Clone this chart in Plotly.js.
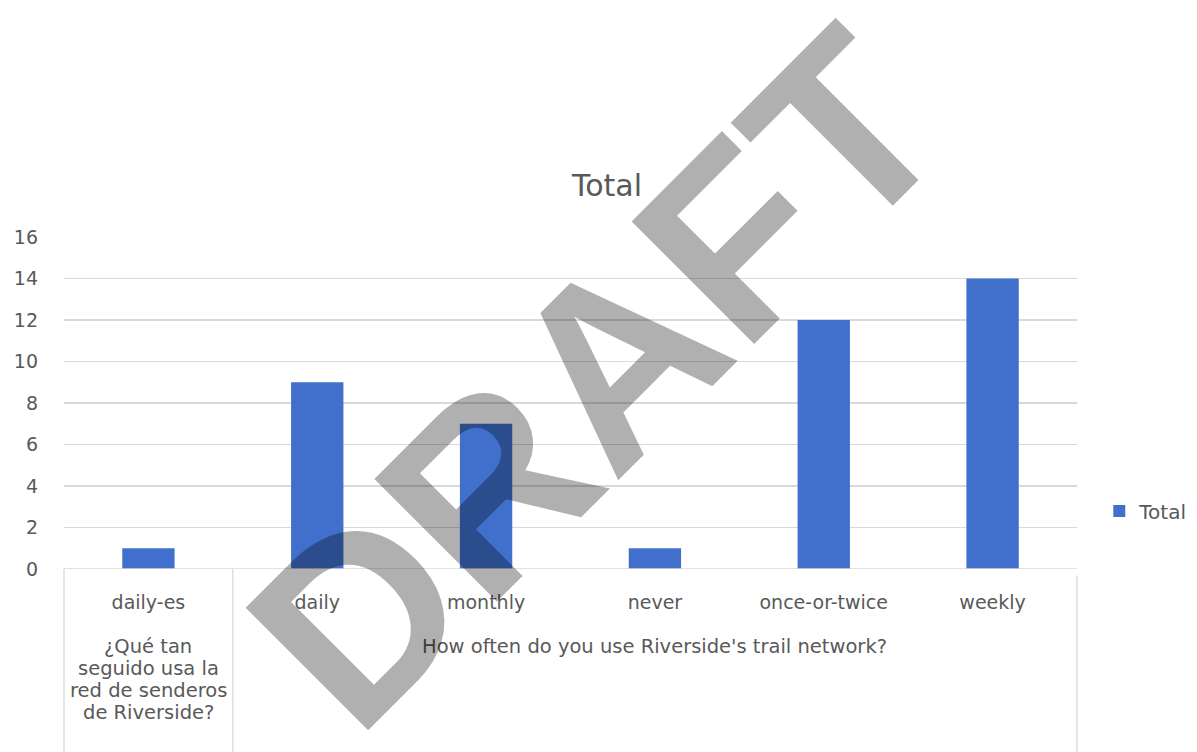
<!DOCTYPE html>
<html>
<head>
<meta charset="utf-8">
<script src="https://cdn.plot.ly/plotly-3.0.1.min.js"></script>
<style>html,body{margin:0;padding:0;background:#fff;}#chart{width:1197px;height:752px;}</style>
</head>
<body>
<div id="chart"></div>
<script>
// Data
const categories = ["daily-es", "daily", "monthly", "never", "once-or-twice", "weekly"];
const totals = [1, 9, 7, 1, 12, 14];
const seriesName = "Total";
const chartTitle = "Total";
const groupLabels = ["¿Qué tan\nseguido usa la\nred de senderos\nde Riverside?", "How often do you use Riverside's trail network?"];
const groupCenters = [0, 3];       // category index at the middle of each group
const groupBoundaries = [0.5];     // boundaries between groups (in category units)
const yTicks = [0, 2, 4, 6, 8, 10, 12, 14, 16];
const watermark = "DRAFT";

const FONT = "DejaVu Sans, sans-serif";
const GREY = "#595959";
const LINE = "#d9d9d9";

const plotH = 332; // px height of plot area (for paper-coordinate conversions)
const bottomPaper = -183 / plotH;

const shapes = [
  {type:"line", xref:"paper", yref:"y", x0:0, x1:1, y0:0, y1:0, line:{color:LINE, width:1.3}},
  {type:"line", xref:"paper", yref:"paper", x0:0, x1:0, y0:0, y1:bottomPaper, line:{color:LINE, width:1.3}},
  {type:"line", xref:"paper", yref:"paper", x0:1, x1:1, y0:-0.02, y1:bottomPaper, line:{color:LINE, width:1.3}}
];
groupBoundaries.forEach(b => shapes.push({type:"line", xref:"x", yref:"paper", x0:b, x1:b, y0:0, y1:bottomPaper, line:{color:LINE, width:1.3}}));

const annotations = [];
groupLabels.forEach((t, i) => {
  t.split("\n").forEach((line, j) => {
    annotations.push({
      text: line, xref:"x", yref:"paper", x: groupCenters[i], y: -(77 + 22*j)/plotH,
      xanchor:"center", yanchor:"middle", showarrow:false, align:"center",
      font:{family:FONT, size:19.5, color:GREY}
    });
  });
});
annotations.push({
  text: watermark, xref:"paper", yref:"paper", x:(596-64)/1013, y:(569-378)/plotH,
  xanchor:"center", yanchor:"middle", showarrow:false, textangle:-45,
  font:{family:"Liberation Sans, Arial, sans-serif", size:252, weight:"bold", color:"rgba(0,0,0,0.31)"}
});

const trace = {
  type:"bar", x: categories, y: totals, name: seriesName,
  marker:{color:"#4070cc"}, showlegend:true, hoverinfo:"x+y"
};

const layout = {
  width:1197, height:752,
  margin:{l:64, r:120, t:237, b:183, autoexpand:false},
  paper_bgcolor:"#fff", plot_bgcolor:"#fff",
  font:{family:FONT, color:GREY},
  title:{text:chartTitle, font:{family:FONT, size:30, color:GREY}, x:607/1197, xanchor:"center", y:1-185/752, yanchor:"middle", xref:"container", yref:"container"},
  bargap:0.69,
  showlegend:true,
  legend:{x:1.022, xanchor:"left", y:(569-511)/plotH, yanchor:"middle", font:{family:FONT, size:20, color:GREY}, bgcolor:"rgba(0,0,0,0)", itemwidth:30},
  xaxis:{type:"category", showgrid:false, zeroline:false, showline:false, ticks:"", tickfont:{family:FONT, size:19, color:GREY}, ticklabelstandoff:20, fixedrange:true},
  yaxis:{range:[0,16], tickvals:yTicks, ticktext:yTicks.map(String), showgrid:true, gridcolor:LINE, gridwidth:1.3, zeroline:false, showline:false, ticks:"", tickfont:{family:FONT, size:19, color:GREY}, ticklabelstandoff:25, fixedrange:true},
  shapes: shapes,
  annotations: annotations
};

Plotly.newPlot("chart", [trace], layout, {displayModeBar:false, staticPlot:true});
</script>
</body>
</html>
